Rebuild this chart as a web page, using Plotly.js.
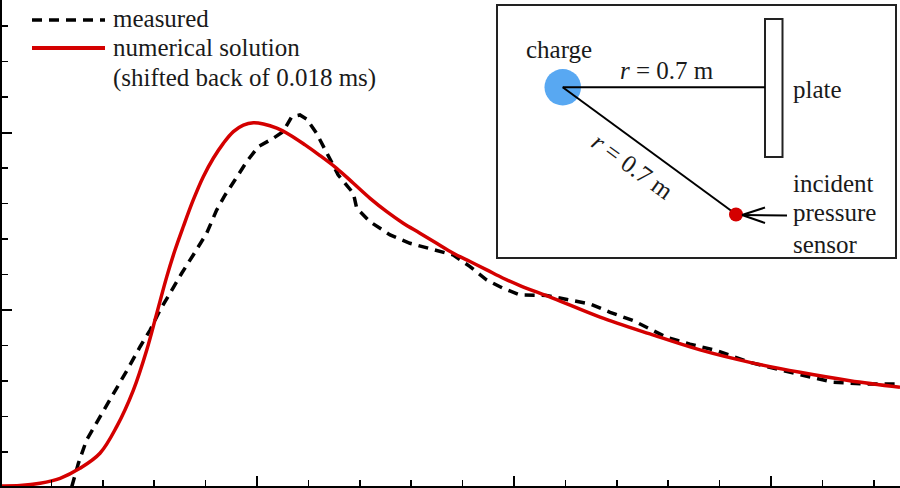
<!DOCTYPE html>
<html>
<head>
<meta charset="utf-8">
<script src="https://cdn.plot.ly/plotly-3.0.1.min.js"></script>
<style>
  html, body { margin: 0; padding: 0; background: #fff; }
  #blast { width: 900px; height: 488px; }
</style>
</head>
<body>
<div id="blast"></div>
<script>
// time in units of one major tick, pressure in units of one major tick
const tMeasured = [0.279, 0.305, 0.337, 0.383, 0.421, 0.460, 0.499, 0.545, 0.584, 0.623,
  0.668, 0.707, 0.752, 0.804, 0.843, 0.876, 0.914, 0.960, 1.005, 1.063, 1.102, 1.135,
  1.167, 1.193, 1.232, 1.271, 1.316, 1.375, 1.388, 1.440, 1.518, 1.595, 1.686, 1.764,
  1.829, 1.894, 1.958, 2.023, 2.127, 2.205, 2.296, 2.374, 2.464, 2.594, 2.685, 2.789,
  2.918, 3.048, 3.152, 3.242, 3.372, 3.502];
const pMeasured = [0.003, 0.136, 0.268, 0.380, 0.474, 0.568, 0.672, 0.793, 0.887, 1.000,
  1.113, 1.207, 1.310, 1.432, 1.563, 1.648, 1.732, 1.836, 1.920, 1.967, 2.005, 2.089,
  2.099, 2.076, 1.995, 1.883, 1.761, 1.657, 1.573, 1.497, 1.423, 1.376, 1.338, 1.310,
  1.244, 1.169, 1.122, 1.085, 1.082, 1.062, 1.034, 0.987, 0.940, 0.846, 0.808, 0.771,
  0.705, 0.658, 0.621, 0.593, 0.583, 0.583];

const tNumerical = [0.000, 0.078, 0.156, 0.234, 0.311, 0.389, 0.454, 0.519, 0.571, 0.610,
  0.649, 0.681, 0.713, 0.752, 0.791, 0.830, 0.869, 0.908, 0.947, 0.986, 1.025, 1.077,
  1.128, 1.187, 1.245, 1.310, 1.375, 1.440, 1.505, 1.569, 1.634, 1.699, 1.764, 1.829,
  1.894, 1.958, 2.023, 2.153, 2.335, 2.529, 2.724, 2.918, 3.113, 3.307, 3.502];
const pNumerical = [0.009, 0.011, 0.024, 0.052, 0.108, 0.193, 0.343, 0.549, 0.775, 0.981,
  1.188, 1.338, 1.469, 1.620, 1.751, 1.855, 1.939, 2.005, 2.042, 2.055, 2.048, 2.024,
  1.986, 1.930, 1.870, 1.798, 1.714, 1.629, 1.554, 1.489, 1.433, 1.376, 1.320, 1.273,
  1.226, 1.179, 1.138, 1.066, 0.960, 0.865, 0.775, 0.705, 0.649, 0.602, 0.565];

const legendLabels = ['measured', 'numerical solution', '(shifted back of 0.018 ms)'];

// pixel -> paper helpers for the legend and the sketch
const PX = x => (x - 2) / 898;
const PY = y => 1 - y / 486;

const serif = { family: 'Liberation Serif', size: 25, color: '#1a1a1a' };

const measured = {
  x: tMeasured, y: pMeasured, mode: 'lines', name: legendLabels[0],
  line: { color: 'black', width: 3.5, dash: '10px,7px' }
};
const numerical = {
  x: tNumerical, y: pNumerical, mode: 'lines', name: legendLabels[1],
  line: { color: '#d40000', width: 3.5, shape: 'spline', smoothing: 1 }
};

const axisBase = {
  showline: true, linecolor: 'black', linewidth: 2,
  ticks: 'inside', ticklen: 10, tickwidth: 2, tickcolor: 'black',
  showticklabels: false, showgrid: false, zeroline: false,
  tick0: 0, dtick: 1,
  minor: { ticks: 'inside', ticklen: 6, tickwidth: 1.5, tickcolor: 'black', dtick: 0.2, showgrid: false }
};

const line = (x0, y0, x1, y1, extra) => Object.assign({
  type: 'line', xref: 'paper', yref: 'paper',
  x0: PX(x0), y0: PY(y0), x1: PX(x1), y1: PY(y1),
  line: { color: 'black', width: 2 }
}, extra || {});

const shapes = [
  // legend samples
  line(32, 20, 105, 20, { line: { color: 'black', width: 3.5, dash: '10px,7px' } }),
  line(32, 48, 105, 48, { line: { color: '#d40000', width: 4 } }),
  // sketch frame
  { type: 'rect', xref: 'paper', yref: 'paper', x0: PX(497), x1: PX(896), y0: PY(258), y1: PY(5),
    line: { color: '#222', width: 2 }, fillcolor: 'white', layer: 'above' },
  // plate
  { type: 'rect', xref: 'paper', yref: 'paper', x0: PX(765), x1: PX(782.5), y0: PY(157), y1: PY(19),
    line: { color: '#222', width: 2 }, fillcolor: 'white', layer: 'above' },
  // charge
  { type: 'circle', xref: 'paper', yref: 'paper', x0: PX(544.5), x1: PX(581), y0: PY(105.5), y1: PY(69),
    line: { width: 0 }, fillcolor: '#58a8f2', layer: 'above' },
  line(562.7, 87.3, 765, 87.3, { layer: 'above' }),
  line(562.7, 87.3, 736, 214.3, { layer: 'above' }),
  // sensor
  { type: 'circle', xref: 'paper', yref: 'paper', x0: PX(729), x1: PX(743), y0: PY(221.5), y1: PY(207.5),
    line: { width: 0 }, fillcolor: '#d40000', layer: 'above' },
  // arrow to sensor
  line(742, 215, 787, 215.5, { layer: 'above' }),
  line(742, 215, 765, 207.5, { layer: 'above' }),
  line(742, 215, 765, 223, { layer: 'above' })
];

const note = (text, x, y, xanchor, extra) => Object.assign({
  text: text, xref: 'paper', yref: 'paper', x: PX(x), y: PY(y),
  xanchor: xanchor, yanchor: 'middle', showarrow: false, font: serif
}, extra || {});

const annotations = [
  note(legendLabels[0], 111, 19, 'left'),
  note(legendLabels[1], 111, 47, 'left'),
  note(legendLabels[2], 111, 78, 'left'),
  note('charge', 559, 50, 'center'),
  note('<i>r</i> = 0.7 m', 667, 70, 'center'),
  note('plate', 791, 89, 'left'),
  note('<i>r</i> = 0.7 m', 633, 166, 'center', { textangle: 36 }),
  note('incident', 791, 183, 'left'),
  note('pressure', 791, 213, 'left'),
  note('sensor', 791, 244, 'left')
];

const layout = {
  width: 900, height: 488,
  margin: { l: 2, r: 0, t: 0, b: 2, pad: 0 },
  paper_bgcolor: 'white', plot_bgcolor: 'white',
  showlegend: false,
  xaxis: Object.assign({}, axisBase, { range: [2 / 257, 900 / 257] }),
  yaxis: Object.assign({}, axisBase, { range: [1.5 / 177.5, 487.5 / 177.5] }),
  shapes: shapes,
  annotations: annotations
};

Plotly.newPlot('blast', [measured, numerical], layout, { staticPlot: true, displayModeBar: false });
</script>
</body>
</html>
